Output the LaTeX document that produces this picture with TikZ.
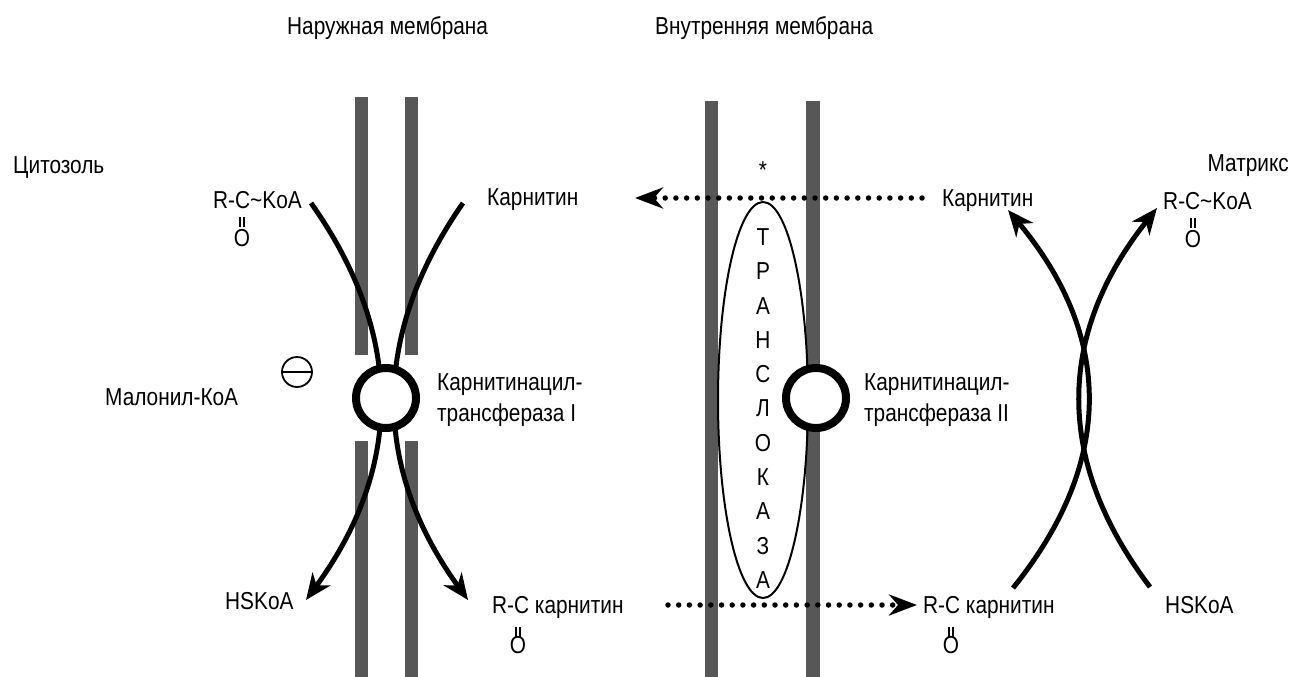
\documentclass[tikz,border=0pt]{standalone}
\usepackage{fontspec}
\setmainfont[FakeStretch=0.85]{Liberation Sans}
\usetikzlibrary{arrows.meta}
\definecolor{barcol}{HTML}{575757}
\begin{document}
\begin{tikzpicture}[x=1pt,y=-1pt,
  lbl/.style={font=\fontsize{24.5}{28}\selectfont, inner sep=0pt},
  bar/.style={fill=barcol},
  flow/.style={line width=5pt, -{Stealth[length=26pt,width=22pt,inset=8pt]}},
  dotline/.style={line width=5.5pt, line cap=round, dash pattern=on 0pt off 10.7pt},
  dottip/.style={-{Stealth[length=28pt,width=21pt,inset=9pt]}},
  enzyme/.style={draw, line width=8pt, fill=white, circle, minimum size=60pt, inner sep=0pt},
  dbl/.style={line width=1.3pt},
  transl/.style={draw, line width=2pt}
]
\useasboundingbox (0,0) rectangle (1298,677);

% membranes
\fill[bar] (355,97) rectangle (368,355);
\fill[bar] (405,97) rectangle (418,355);
\fill[bar] (355,441) rectangle (368,677);
\fill[bar] (405,441) rectangle (418,677);
\fill[bar] (705,101) rectangle (718,677);
\fill[bar] (806,101) rectangle (820,677);

% titles
\node[lbl, anchor=base west] (outerM) at (287,35) {Наружная мембрана};
\node[lbl, anchor=base west] (innerM) at (655,35) {Внутренняя мембрана};
\node[lbl, anchor=base west] (cyto) at (13,173) {Цитозоль};
\node[lbl, anchor=base east] (matrix) at (1289,171) {Матрикс};

% left side texts
\node[lbl, anchor=base west] (acylL) at (213,208) {R-C\textasciitilde KoA};
\draw[dbl] (240,217) -- (240,227) (244,217) -- (244,227);
\node[lbl, anchor=base] (oL) at (242,246) {O};
\node[lbl, anchor=base west] (carnL) at (487,205) {Карнитин};
\node[lbl, anchor=base west] (malonyl) at (105,405) {Малонил-КоА};
\node[lbl, anchor=base west] (cpt1a) at (437,390) {Карнитинацил-};
\node[lbl, anchor=base west] (cpt1b) at (437,421) {трансфераза I};
\node[lbl, anchor=base west] (hskoaL) at (225,609) {HSKoA};
\node[lbl, anchor=base west] (acarnL) at (492,613) {R-C карнитин};
\draw[dbl] (516,627) -- (516,637) (520,627) -- (520,637);
\node[lbl, anchor=base] (oAL) at (518,653) {O};

% right side texts
\node[lbl] (star) at (763,170) {*};
\node[lbl, anchor=base west] (carnR) at (942,206) {Карнитин};
\node[lbl, anchor=base west] (acylR) at (1163,209) {R-C\textasciitilde KoA};
\draw[dbl] (1191,218) -- (1191,228) (1195,218) -- (1195,228);
\node[lbl, anchor=base] (oR) at (1193,247) {O};
\node[lbl, anchor=base west] (cpt2a) at (864,390) {Карнитинацил-};
\node[lbl, anchor=base west] (cpt2b) at (864,421) {трансфераза II};
\node[lbl, anchor=base west] (acarnR) at (923,613) {R-C карнитин};
\draw[dbl] (949,627) -- (949,637) (953,627) -- (953,637);
\node[lbl, anchor=base] (oAR) at (951,653) {O};
\node[lbl, anchor=base west] (hskoaR) at (1165,613) {HSKoA};

% outer membrane flows
\coordinate (c1s) at (311,203);
\coordinate (c1e) at (306,600);
\coordinate (c2s) at (463,203);
\coordinate (c2e) at (468,600);
\draw[flow] (c1s) .. controls (404.7,335.3) and (403,467.7) .. (c1e);
\draw[flow] (c2s) .. controls (370.7,335.3) and (372.3,467.7) .. (c2e);

% inhibition sign
\node[draw, circle, line width=1.8pt, minimum size=30pt, inner sep=0pt] (inhib) at (297,372) {};
\draw[line width=1.8pt] (inhib.west) -- (inhib.east);

% CPT I
\node[enzyme] (cpt1) at (386,398) {};

% translocase
\draw[transl] (763,400) ellipse (45 and 198);
\foreach \l [count=\i from 0] in {Т,Р,А,Н,С,Л,О,К,А,З,А}
  \node[lbl] (tl\i) at (763,{237+34.3*\i}) {\l};

% CPT II
\node[enzyme] (cpt2) at (816,398) {};

% dotted transport arrows
\coordinate (d1s) at (922,198);
\coordinate (d1e) at (635,198);
\draw[dotline, dottip] (d1s) -- (d1e);
\coordinate (d2s) at (668,605);
\coordinate (d2e) at (917,605);
\draw[dotline, dottip] (d2s) -- (d2e);

% matrix flows
\coordinate (mAs) at (1013,588);
\coordinate (mAe) at (1008,210);
\coordinate (mBs) at (1150,587);
\coordinate (mBe) at (1157,208);
\draw[flow] (mAs) .. controls (1114.7,462) and (1113,336) .. (mAe);
\draw[flow] (mBs) .. controls (1054.3,460.7) and (1056.7,334.3) .. (mBe);
\end{tikzpicture}
\end{document}
